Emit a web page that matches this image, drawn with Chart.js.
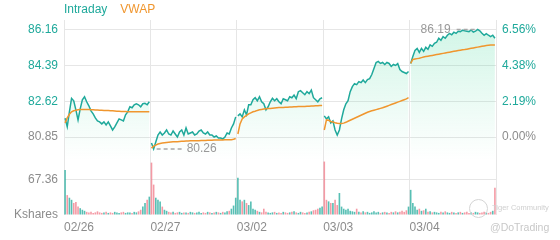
<!DOCTYPE html>
<html><head><meta charset="utf-8">
<script src="https://cdn.jsdelivr.net/npm/chart.js@4"></script>
<style>
html,body{margin:0;padding:0;background:#fff;}
#wrap{position:relative;width:560px;height:240px;overflow:hidden;font-family:'Liberation Sans',Arial,sans-serif;}
#price{position:absolute;left:0;top:0;}
#vol{position:absolute;left:0;top:160px;}
.wm1{position:absolute;left:492px;top:203px;font-size:7.5px;color:#cfcfcf;white-space:nowrap;}
.wm2{position:absolute;left:490px;top:221px;font-size:10.5px;color:#c8c8c8;white-space:nowrap;}
.logo{position:absolute;left:469px;top:199px;width:17px;height:17px;border:1px solid #d4d4d4;border-radius:50%;}
</style></head>
<body>
<div id="wrap">
<canvas id="price" width="560" height="160"></canvas>
<canvas id="vol" width="560" height="80"></canvas>
<div class="logo"></div>
<div class="wm1">Tiger Community</div>
<div class="wm2">@DoTrading</div>
</div>
<script>
const dates = ['02/26','02/27','03/02','03/03','03/04'];
const prevClose = 80.85;
const priceTicks = [80.85, 82.62, 84.39, 86.16];
const pctTicks = [0, 2.19, 4.38, 6.56];
const volumeTicks = [0, 67.36];
const priceRange = [79.71, 86.656];
const volumeMax = 105;

const intradayD1 = [81.78,81.36,82.1,82.77,82.65,82.2,81.7,82.25,82.7,82.85,82.6,82.4,82.15,82.0,81.8,81.65,81.6,81.5,81.6,81.45,81.6,81.4,81.2,81.35,81.55,81.75,81.7,81.65,81.95,82.1,82.35,82.3,82.45,82.5,82.45,82.35,82.5,82.52,82.45,82.6];
const intradayD2 = [80.55,80.26,80.6,80.95,81.1,80.95,81.05,81.2,81.0,80.95,81.15,81.0,80.85,81.1,81.2,80.95,81.3,81.0,81.05,81.1,80.95,81.0,81.15,81.2,81.05,81.0,81.1,80.95,80.95,80.85,80.9,80.8,80.8,80.75,80.85,81.05,81.0,81.3,81.5,81.85];
const intradayD3 = [81.9,82.0,81.85,82.2,81.95,82.45,82.45,82.7,82.8,82.65,82.85,82.6,82.5,82.2,82.35,82.6,82.77,82.65,82.75,82.6,82.5,82.75,82.7,82.65,82.85,82.8,82.93,82.75,83.1,83.15,83.05,82.95,83.1,83.0,83.18,82.8,82.7,82.6,82.75,82.8];
const intradayD4 = [81.9,81.75,81.85,81.55,81.65,81.2,80.95,81.2,81.75,82.2,82.5,82.65,83.1,83.35,83.5,83.45,83.6,83.55,83.68,83.55,83.7,83.75,83.95,84.25,84.55,84.6,84.5,84.55,84.45,84.55,84.5,84.35,84.45,84.4,84.5,84.2,84.1,84.05,84.0,84.1];
const intradayD5 = [84.5,84.85,85.15,85.25,85.05,85.25,85.1,85.3,85.2,85.42,85.35,85.5,85.55,85.75,85.65,85.83,85.75,85.9,85.99,85.92,86.05,85.99,86.1,86.08,86.15,86.12,86.1,86.08,86.16,86.05,86.1,86.19,86.12,86.0,85.9,85.98,85.9,85.83,85.9,85.75];

const vwapD1 = [81.55,81.8,81.98,82.1,82.15,82.18,82.2,82.21,82.22,82.22,82.22,82.21,82.2,82.2,82.19,82.19,82.18,82.18,82.17,82.17,82.16,82.15,82.15,82.14,82.13,82.13,82.12,82.12,82.12,82.11,82.11,82.11,82.11,82.11,82.1,82.1,82.1,82.1,82.1,82.1];
const vwapD2 = [80.3,80.4,80.45,80.5,80.53,80.55,80.57,80.58,80.59,80.6,80.61,80.62,80.62,80.63,80.64,80.64,80.65,80.65,80.66,80.66,80.67,80.67,80.67,80.68,80.68,80.68,80.69,80.69,80.69,80.7,80.7,80.7,80.7,80.7,80.71,80.71,80.72,80.72,80.74,80.78];
const vwapD3 = [81.0,81.5,81.75,81.85,81.92,82.0,82.05,82.1,82.13,82.17,82.2,82.22,82.24,82.25,82.26,82.27,82.28,82.29,82.3,82.31,82.32,82.32,82.33,82.33,82.34,82.34,82.35,82.35,82.36,82.36,82.37,82.37,82.38,82.38,82.39,82.39,82.4,82.4,82.41,82.41];
const vwapD4 = [81.2,81.7,81.68,81.62,81.6,81.56,81.53,81.52,81.52,81.54,81.58,81.63,81.68,81.73,81.78,81.83,81.88,81.93,81.98,82.03,82.08,82.12,82.15,82.18,82.21,82.24,82.27,82.3,82.34,82.38,82.42,82.46,82.5,82.54,82.58,82.62,82.66,82.7,82.74,82.8];
const vwapD5 = [84.5,84.7,84.72,84.74,84.76,84.79,84.82,84.84,84.86,84.88,84.9,84.92,84.94,84.96,84.98,85.0,85.02,85.04,85.06,85.08,85.1,85.12,85.14,85.16,85.18,85.19,85.21,85.23,85.25,85.27,85.29,85.31,85.33,85.35,85.37,85.39,85.4,85.41,85.42,85.42];

const volD1 = [86,38,33,29,23,25,16,13,10,8,6,5,6,4,5,7,5,4,5,6,4,5,4,6,5,4,5,6,4,5,5,4,6,5,7,10,16,23,29,35];
const volD2 = [100,58,33,29,26,16,10,8,6,5,6,4,5,6,4,5,5,4,6,5,4,5,6,4,5,4,6,5,4,5,6,5,4,6,5,7,8,12,18,33];
const volD3 = [71,29,26,29,23,19,26,12,10,8,6,5,12,6,5,4,5,6,4,5,4,6,5,4,5,6,7,5,4,6,5,4,5,6,7,9,10,12,14,16];
const volD4 = [102,29,26,23,23,29,19,42,16,12,10,12,8,7,6,12,6,5,7,5,6,4,5,7,5,6,4,5,6,5,4,6,5,7,5,6,8,6,9,16];
const volD5 = [48,23,16,10,12,8,9,12,6,7,5,6,5,4,6,5,7,5,4,6,5,4,5,6,4,5,6,4,5,4,6,5,4,5,6,5,4,6,8,52];

const intradayDays = [intradayD1, intradayD2, intradayD3, intradayD4, intradayD5];
const vwapDays = [vwapD1, vwapD2, vwapD3, vwapD4, vwapD5];
const volumeDays = [volD1, volD2, volD3, volD4, volD5];

const TEAL = '#1fa99b', ORANGE = '#f0962e', GRAY = '#8c8c8c', GRID = '#e6e6e6';
const FONT = {family: "'Liberation Sans', Arial, sans-serif", size: 12};
Chart.defaults.font.family = FONT.family;

function toPoints(days) {
  const out = [];
  days.forEach((arr, d) => {
    const n = arr.length;
    arr.forEach((v, i) => out.push({x: d + (i + 0.5) / n, y: v}));
    if (d < days.length - 1) out.push({x: d + 1, y: null});
  });
  return out;
}

const flatPrice = intradayDays.flat();
const volPoints = [], volColors = [];
let k = 0;
volumeDays.forEach((arr, d) => arr.forEach((v, i) => {
  volPoints.push({x: d + (i + 0.5) / arr.length, y: v});
  const prev = k === 0 ? prevClose : flatPrice[k - 1];
  volColors.push(flatPrice[k] >= prev ? 'rgba(31,169,155,0.75)' : 'rgba(240,120,135,0.75)');
  k++;
}));

const grad = (c) => {
  const chart = c.chart; const a = chart.chartArea;
  if (!a) return 'rgba(0,0,0,0)';
  const g = chart.ctx.createLinearGradient(0, a.top, 0, a.bottom);
  g.addColorStop(0, 'rgba(40,210,140,0.22)');
  g.addColorStop(1, 'rgba(40,210,140,0)');
  return g;
};

const extras = {
  id: 'extras',
  afterDatasetsDraw(chart) {
    const ctx = chart.ctx, xs = chart.scales.x, ys = chart.scales.y;
    ctx.save();
    ctx.font = "12px 'Liberation Sans', Arial, sans-serif";
    ctx.textBaseline = 'middle';
    ctx.textAlign = 'left';
    let lx = chart.chartArea.left;
    chart.data.datasets.forEach(ds => {
      ctx.fillStyle = ds.borderColor;
      ctx.fillText(ds.label, lx, 10);
      lx += ctx.measureText(ds.label).width + 13;
    });
    const pts = chart.data.datasets[0].data.filter(p => p.y !== null);
    let mn = pts[0], mx = pts[0];
    pts.forEach(p => { if (p.y < mn.y) mn = p; if (p.y > mx.y) mx = p; });
    ctx.strokeStyle = '#a8a8a8'; ctx.fillStyle = '#999'; ctx.lineWidth = 1.5; ctx.setLineDash([4, 3]);
    let px = xs.getPixelForValue(mn.x), py = ys.getPixelForValue(mn.y);
    ctx.beginPath(); ctx.moveTo(px + 3, py); ctx.lineTo(px + 28, py); ctx.stroke();
    ctx.fillText(mn.y.toFixed(2), px + 33, py);
    px = xs.getPixelForValue(mx.x); py = ys.getPixelForValue(mx.y);
    ctx.beginPath(); ctx.moveTo(px - 3, py); ctx.lineTo(px - 24, py); ctx.stroke();
    ctx.textAlign = 'right';
    ctx.fillText(mx.y.toFixed(2), px - 27, py);
    ctx.restore();
  }
};

new Chart(document.getElementById('price'), {
  type: 'line',
  data: {datasets: [
    {label: 'Intraday', data: toPoints(intradayDays), borderColor: TEAL, borderWidth: 1.5, pointRadius: 0, fill: 'start', backgroundColor: grad, spanGaps: false, order: 1},
    {label: 'VWAP', data: toPoints(vwapDays), borderColor: ORANGE, borderWidth: 1.5, pointRadius: 0, fill: false, spanGaps: false, order: 0}
  ]},
  options: {
    responsive: false, animation: false, devicePixelRatio: 1,
    layout: {padding: {top: 20, left: 0, right: 0, bottom: 0}},
    plugins: {legend: {display: false}, tooltip: {enabled: false}},
    scales: {
      x: {type: 'linear', min: 0, max: 5, ticks: {display: false, stepSize: 1}, grid: {color: GRID, drawTicks: false}, border: {display: false}},
      y: {position: 'left', min: priceRange[0], max: priceRange[1],
          afterBuildTicks: s => { s.ticks = priceTicks.map(v => ({value: v})); },
          afterFit: s => { s.width = 64; s.paddingTop = 0; s.paddingBottom = 0; },
          ticks: {padding: 6, font: FONT, color: c => c.tick.value > prevClose + 1e-6 ? TEAL : GRAY, callback: v => Number(v).toFixed(2)},
          grid: {color: GRID, drawTicks: false}, border: {display: false}},
      yPct: {position: 'right', min: (priceRange[0] / prevClose - 1) * 100, max: (priceRange[1] / prevClose - 1) * 100,
          afterBuildTicks: s => { s.ticks = pctTicks.map(v => ({value: v})); },
          afterFit: s => { s.width = 64; s.paddingTop = 0; s.paddingBottom = 0; },
          ticks: {padding: 6, font: FONT, color: c => c.tick.value > 1e-6 ? TEAL : GRAY, callback: v => Number(v).toFixed(2) + '%'},
          grid: {display: false, drawTicks: false}, border: {display: false}}
    }
  },
  plugins: [extras]
});

new Chart(document.getElementById('vol'), {
  type: 'bar',
  data: {datasets: [{data: volPoints, backgroundColor: volColors, barPercentage: 0.75, categoryPercentage: 1, borderWidth: 0}]},
  options: {
    responsive: false, animation: false, devicePixelRatio: 1,
    layout: {padding: {left: 0, right: 64, top: 0, bottom: 0}},
    plugins: {legend: {display: false}, tooltip: {enabled: false}},
    scales: {
      x: {type: 'linear', min: 0, max: 5, offset: false,
          ticks: {stepSize: 1, align: 'start', padding: 5, font: FONT, color: GRAY, maxRotation: 0, autoSkip: false, callback: v => dates[v] ?? ''},
          grid: {color: GRID, drawTicks: false, offset: false}, border: {display: false},
          afterFit: s => { s.height = 25; s.paddingLeft = 0; s.paddingRight = 0; }},
      y: {min: 0, max: volumeMax,
          afterBuildTicks: s => { s.ticks = volumeTicks.map(v => ({value: v})); },
          afterFit: s => { s.width = 64; s.paddingTop = 0; s.paddingBottom = 0; },
          ticks: {padding: 6, font: FONT, color: GRAY, callback: v => v === 0 ? 'Kshares' : Number(v).toFixed(2)},
          grid: {color: c => (c.tick && c.tick.value === 0) ? 'rgba(0,0,0,0)' : GRID, drawTicks: false}, border: {display: false}}
    }
  }
});
</script>
</body></html>
